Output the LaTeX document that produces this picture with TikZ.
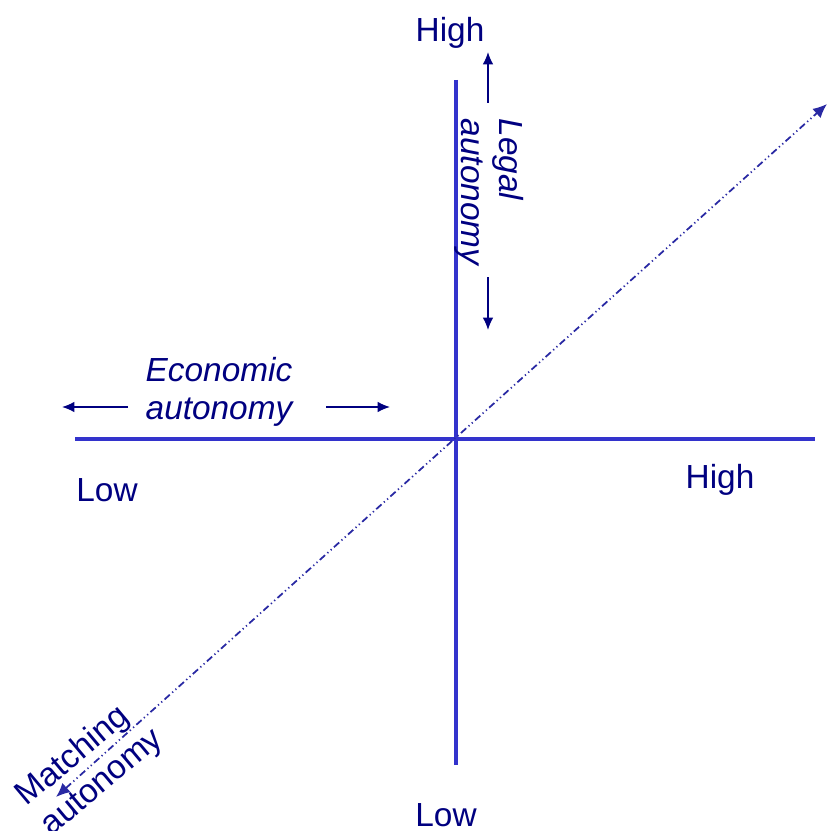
\documentclass[tikz,border=0pt]{standalone}
\usepackage{fontspec}
\setmainfont{Liberation Sans}
\usetikzlibrary{arrows.meta}
\definecolor{axisblue}{RGB}{51,51,204}
\definecolor{labelnavy}{RGB}{0,0,128}
\tikzset{
  axisline/.style={axisblue,line width=2.3pt},
  thinarrow/.style={labelnavy,line width=0.8pt,-{Latex[length=7pt,width=6pt]}},
  matchline/.style={axisblue!80!black,line width=1pt,
    dash pattern=on 4pt off 1.8pt on 0.7pt off 1.8pt on 0.7pt off 1.8pt,
    {Latex[length=8pt,width=7pt]}-{Latex[length=8pt,width=7pt]}},
  endlabel/.style={labelnavy,font=\fontsize{19}{22}\selectfont,inner sep=0pt},
  dimlabel/.style={labelnavy,font=\fontsize{19}{22}\selectfont\itshape,align=left,inner sep=0pt},
  matchlabel/.style={labelnavy,font=\fontsize{19}{22}\selectfont,align=left,inner sep=0pt}
}
\begin{document}
\begin{tikzpicture}[x=0.02cm,y=-0.02cm]
            \useasboundingbox (0,0) rectangle (827,831);
            % Cartesian axes
            \coordinate (origin) at (456,439);
            \coordinate (econLow) at (75,439);
            \coordinate (econHigh) at (815,439);
            \coordinate (legalHigh) at (456,80);
            \coordinate (legalLow) at (456,765);
            \draw[axisline] (econLow) -- (econHigh);
            \draw[axisline] (legalHigh) -- (legalLow);

            % Matching axis (diagonal)
            \coordinate (matchLow) at (56,797);
            \coordinate (matchHigh) at (827,104);
            \draw[matchline] (matchLow) -- (matchHigh);

            % Axis ends
            \node[endlabel] (legalHighLbl) at (450,33) {High};
            \node[endlabel] (legalLowLbl) at (446,815) {Low};
            \node[endlabel] (econLowLbl) at (107,490) {Low};
            \node[endlabel] (econHighLbl) at (720,480) {High};

            % Economic autonomy
            \node[dimlabel] (econ) at (219,392) {Economic\\autonomy};
            \coordinate (econArrL) at (128,407);
            \coordinate (econArrLEnd) at (62,407);
            \coordinate (econArrR) at (326,407);
            \coordinate (econArrREnd) at (390,407);
            \draw[thinarrow] (econArrL) -- (econArrLEnd);
            \draw[thinarrow] (econArrR) -- (econArrREnd);

            % Legal autonomy
            \node[dimlabel,rotate=-90] (legal) at (489,192) {Legal\\autonomy};
            \coordinate (legalArrU) at (488,103);
            \coordinate (legalArrUEnd) at (488,52);
            \coordinate (legalArrD) at (488,277);
            \coordinate (legalArrDEnd) at (488,330);
            \draw[thinarrow] (legalArrU) -- (legalArrUEnd);
            \draw[thinarrow] (legalArrD) -- (legalArrDEnd);

            % Matching autonomy
            \node[matchlabel,rotate=40] (match) at (90,768) {Matching\\autonomy};
        \end{tikzpicture}
\end{document}
